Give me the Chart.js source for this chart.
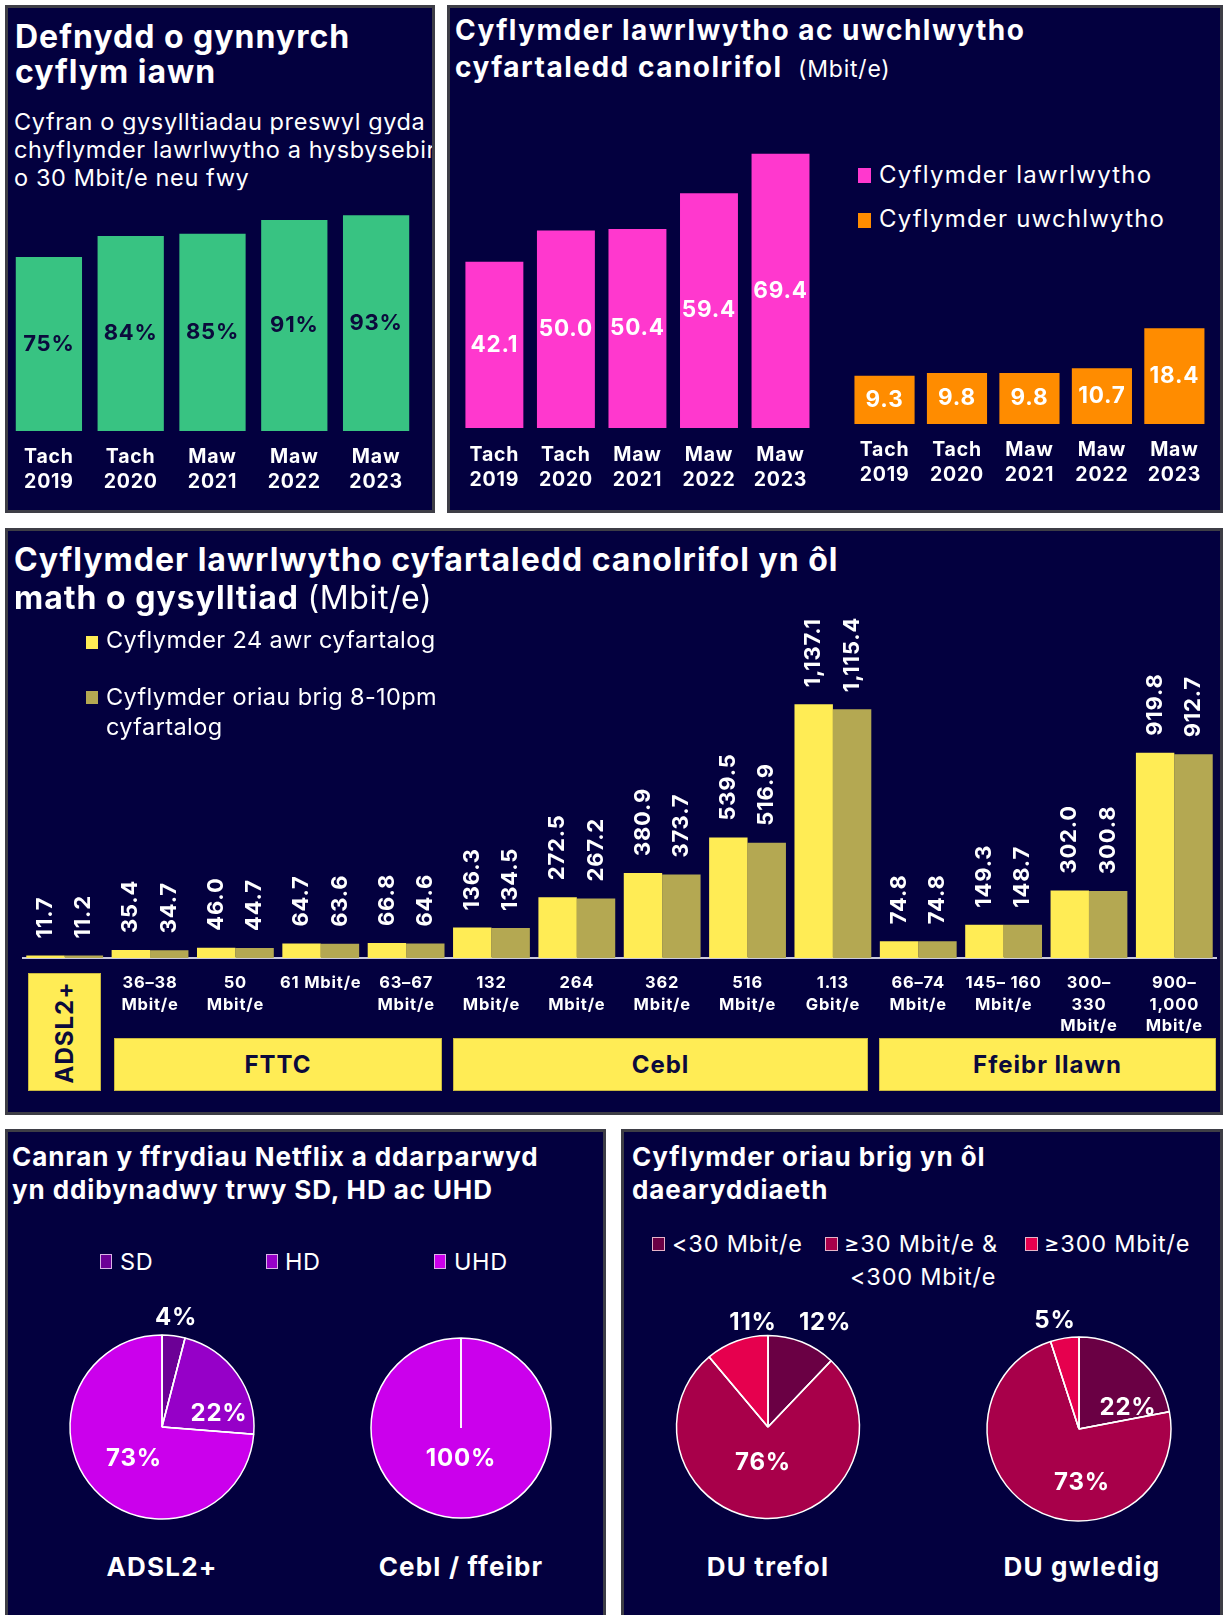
<!DOCTYPE html>
<html>
<head>
<meta charset="utf-8">
<script src="https://cdn.jsdelivr.net/npm/chart.js@4.4.0/dist/chart.umd.min.js"></script>
<style>
  body { margin: 0; width: 1225px; height: 1615px; background: #fff; position: relative; overflow: hidden; font-family: Inter, "Open Sans", sans-serif; }
  .panel { position: absolute; background: #03003f; border: 3px solid #3e3e46; box-sizing: border-box; }
  .t { position: absolute; color: #fff; white-space: nowrap; line-height: 1; }
  .sq { position: absolute; box-sizing: border-box; }
  .box { position: absolute; background: #ffec55; border: 1px solid #c9b840; box-sizing: border-box; color: #0b0a3c; font-weight: 700; font-size: 24px; letter-spacing: 1px; display: flex; align-items: center; justify-content: center; }
  canvas { position: absolute; }
</style>
</head>
<body>
<div class="panel" style="left:5px;top:5px;width:430px;height:508px"></div>
<div class="panel" style="left:447px;top:5px;width:776px;height:508px"></div>
<div class="panel" style="left:5px;top:528px;width:1218px;height:587px"></div>
<div class="panel" style="left:5px;top:1129px;width:601px;height:495px"></div>
<div class="panel" style="left:621px;top:1129px;width:602px;height:495px"></div>

<canvas id="c1" width="409" height="300" style="left:8px;top:199px"></canvas>
<canvas id="c2" width="363" height="381" style="left:457px;top:112px"></canvas>
<canvas id="c3" width="365" height="169" style="left:848px;top:320px"></canvas>
<canvas id="c4" width="1195" height="437" style="left:22px;top:601px"></canvas>
<canvas id="p1" width="200" height="200" style="left:62px;top:1327px"></canvas>
<canvas id="p2" width="200" height="200" style="left:361px;top:1328px"></canvas>
<canvas id="p3" width="200" height="200" style="left:668px;top:1327px"></canvas>
<canvas id="p4" width="200" height="200" style="left:979px;top:1329px"></canvas>

<script>
// --- data ---
const yearLabels = [["Tach", "2019"], ["Tach", "2020"], ["Maw", "2021"], ["Maw", "2022"], ["Maw", "2023"]];
const superfastShare = [75, 84, 85, 91, 93];
const downloadMedian = [42.1, 50.0, 50.4, 59.4, 69.4];
const uploadMedian = [9.3, 9.8, 9.8, 10.7, 18.4];

const connLabels = ["", ["36–38", "Mbit/e"], ["50", "Mbit/e"], "61 Mbit/e", ["63–67", "Mbit/e"],
  ["132", "Mbit/e"], ["264", "Mbit/e"], ["362", "Mbit/e"], ["516", "Mbit/e"], ["1.13", "Gbit/e"],
  ["66–74", "Mbit/e"], ["145– 160", "Mbit/e"], ["300–", "330", "Mbit/e"], ["900–", "1,000", "Mbit/e"]];
const speed24h = [11.7, 35.4, 46.0, 64.7, 66.8, 136.3, 272.5, 380.9, 539.5, 1137.1, 74.8, 149.3, 302.0, 919.8];
const speedPeak = [11.2, 34.7, 44.7, 63.6, 64.6, 134.5, 267.2, 373.7, 516.9, 1115.4, 74.8, 148.7, 300.8, 912.7];

const streamLabels = ["SD", "HD", "UHD"];
const streamAdsl = [4, 22, 73];
const streamCableFibre = [0, 0, 100];

const peakBands = ["<30 Mbit/e", "≥30 Mbit/e & <300 Mbit/e", "≥300 Mbit/e"];
const peakUrban = [12, 76, 11];
const peakRural = [22, 73, 5];

// --- colours ---
const NAVY = "#0b0a3c";
const streamColours = ["#6c0096", "#9600c8", "#cb00ec"];
const peakColours = ["#6a0044", "#a8004a", "#e6004e"];

Chart.defaults.font.family = "Inter, 'Open Sans', sans-serif";
Chart.defaults.animation = false;
Chart.defaults.responsive = false;
Chart.defaults.plugins.legend.display = false;
Chart.defaults.plugins.tooltip.enabled = false;

// text helper for the html labels
function T(x, y, html, css, centre) {
  const d = document.createElement("div");
  d.className = "t";
  d.innerHTML = html;
  d.style.cssText = "left:" + x + "px;top:" + y + "px;transform:translate(" + (centre ? "-50%" : "0") + ",-50%);" + (css || "");
  document.body.appendChild(d);
  return d;
}
function square(x, y, w, h, col) {
  const d = document.createElement("div");
  d.className = "sq";
  d.style.cssText = "left:" + x + "px;top:" + y + "px;width:" + w + "px;height:" + h + "px;background:" + col;
  document.body.appendChild(d);
  return d;
}

// wider letter spacing for the canvas text (ticks)
function spacing(px) {
  return { id: "spacing", beforeDraw(chart) { chart.ctx.letterSpacing = px + "px"; } };
}

// labels drawn on the bars
function barLabels(font, colour, format, mode, gap) {
  return {
    id: "barLabels",
    afterDatasetsDraw(chart) {
      const ctx = chart.ctx;
      chart.data.datasets.forEach((ds, i) => {
        chart.getDatasetMeta(i).data.forEach((bar, j) => {
          ctx.save();
          ctx.font = font;
          ctx.letterSpacing = "0.8px";
          ctx.fillStyle = colour;
          const s = format(ds.data[j]);
          if (mode === "centre") {
            ctx.textAlign = "center";
            ctx.textBaseline = "middle";
            ctx.fillText(s, bar.x, (bar.y + bar.base) / 2);
          } else {
            ctx.translate(bar.x, bar.y - gap);
            ctx.rotate(-Math.PI / 2);
            ctx.textAlign = "left";
            ctx.textBaseline = "middle";
            ctx.fillText(s, 0, 0);
          }
          ctx.restore();
        });
      });
    }
  };
}

function barChart(id, labels, datasets, yMax, axisH, tickFont, tickLine, tickPad, plugin, catPct, extraX) {
  return new Chart(document.getElementById(id), {
    type: "bar",
    data: { labels: labels, datasets: datasets },
    options: {
      layout: { padding: 0 },
      scales: {
        x: Object.assign({
          grid: { display: false, drawTicks: false },
          border: { display: false },
          ticks: { color: "#fff", autoSkip: false, maxRotation: 0, padding: tickPad,
            font: { size: tickFont, weight: "bold", lineHeight: tickLine } },
          afterFit: s => { s.height = axisH; }
        }, extraX || {}),
        y: { display: false, min: 0, max: yMax }
      },
      datasets: { bar: { categoryPercentage: catPct, barPercentage: 1 } }
    },
    plugins: [spacing(0.8), plugin]
  });
}

// panel 1: superfast take-up
barChart("c1", yearLabels,
  [{ data: superfastShare, backgroundColor: "#38c382", barPercentage: 0.81, categoryPercentage: 1 }],
  100, 68, 19.5, 1.28, 13.5,
  barLabels("bold 22px Inter", NAVY, v => v + "%", "centre"), 1);

// panel 2: download and upload medians
barChart("c2", yearLabels,
  [{ data: downloadMedian, backgroundColor: "#ff38ce", barPercentage: 0.81, categoryPercentage: 1 }],
  80, 65, 19.5, 1.28, 14.5,
  barLabels("bold 22.5px Inter", "#fff", v => v.toFixed(1), "centre"), 1);
barChart("c3", yearLabels,
  [{ data: uploadMedian, backgroundColor: "#ff8c00", barPercentage: 0.83, categoryPercentage: 1 }],
  20, 65, 19.5, 1.28, 13.5,
  barLabels("bold 22.5px Inter", "#fff", v => v.toFixed(1), "centre"), 1);

// panel 3: by connection type
const fmt = v => v.toLocaleString("en-GB", { minimumFractionDigits: 1, maximumFractionDigits: 1 });
barChart("c4", connLabels,
  [{ data: speed24h, backgroundColor: "#ffec55" }, { data: speedPeak, backgroundColor: "#b4a852" }],
  1600, 80, 16.5, 1.3, 14.5,
  barLabels("bold 22px Inter", "#fff", fmt, "rotated", 17), 0.9,
  { border: { display: true, color: "#c9c9dd", width: 2 } });

// pies
const pieEdges = {
  id: "pieEdges",
  afterDatasetsDraw(chart) {
    const ctx = chart.ctx;
    chart.getDatasetMeta(0).data.forEach(arc => {
      if (arc.circumference <= 0) return;
      ctx.save();
      ctx.strokeStyle = "#fff";
      ctx.lineWidth = 1.5;
      ctx.beginPath();
      ctx.moveTo(arc.x, arc.y);
      ctx.lineTo(arc.x + arc.outerRadius * Math.cos(arc.startAngle), arc.y + arc.outerRadius * Math.sin(arc.startAngle));
      ctx.stroke();
      ctx.restore();
    });
  }
};
function pie(id, labels, values, colours, r) {
  return new Chart(document.getElementById(id), {
    type: "pie",
    data: { labels: labels, datasets: [{ data: values, backgroundColor: colours, borderColor: "#fff", borderWidth: 1.5 }] },
    options: { radius: r, layout: { padding: 0 } },
    plugins: [pieEdges]
  });
}
pie("p1", streamLabels, streamAdsl, streamColours, 92);
pie("p2", streamLabels, streamCableFibre, streamColours, 90);
pie("p3", peakBands, peakUrban, peakColours, 91.5);
pie("p4", peakBands, peakRural, peakColours, 92);

// --- text ---
const H1 = "font-size:32px;font-weight:700;letter-spacing:1px;";
const H2 = "font-size:28px;font-weight:700;letter-spacing:1.5px;";
const H4 = "font-size:26px;font-weight:700;letter-spacing:0.9px;";
const BODY = "font-size:23.5px;font-weight:400;letter-spacing:0.6px;";

T(15, 37, "Defnydd o gynnyrch", H1);
T(15, 72, "cyflym iawn", H1);
["Cyfran o gysylltiadau preswyl gyda", "chyflymder lawrlwytho a hysbysebir", "o 30 Mbit/e neu fwy"].forEach((s, i) => {
  T(14, [122, 150, 178][i], s, BODY + "max-width:418px;overflow:hidden;");
});

T(455, 30, "Cyflymder lawrlwytho ac uwchlwytho", H2);
T(455, 67, "cyfartaledd canolrifol <span style='font-weight:400;font-size:23px;letter-spacing:0.8px'>&nbsp;(Mbit/e)</span>", H2);
square(858, 168, 13, 15, "#ff38ce");
square(858, 213, 13, 15, "#ff8c00");
const LEG2 = "font-size:24px;font-weight:400;letter-spacing:1.2px;";
T(879, 175, "Cyflymder lawrlwytho", LEG2);
T(879, 219, "Cyflymder uwchlwytho", LEG2);

T(14, 560, "Cyflymder lawrlwytho cyfartaledd canolrifol yn ôl", H1);
T(14, 598, "math o gysylltiad <span style='font-weight:400;letter-spacing:0.6px'>(Mbit/e)</span>", H1);
square(86, 636, 12, 13, "#ffec55");
square(86, 691, 12, 13, "#b4a852");
const LEG3 = "font-size:23.5px;font-weight:400;letter-spacing:0.4px;";
T(106, 640, "Cyflymder 24 awr cyfartalog", LEG3);
T(106, 697, "Cyflymder oriau brig 8-10pm", LEG3);
T(106, 727, "cyfartalog", LEG3);

function box(x, y, w, h, html, rotate) {
  const d = document.createElement("div");
  d.className = "box";
  d.style.cssText = "left:" + x + "px;top:" + y + "px;width:" + w + "px;height:" + h + "px";
  d.innerHTML = rotate ? "<span style='transform:rotate(-90deg);white-space:nowrap'>" + html + "</span>" : html;
  document.body.appendChild(d);
}
box(28, 973, 73, 118, "ADSL2+", true);
box(114, 1038, 328, 53, "FTTC");
box(453, 1038, 415, 53, "Cebl");
box(879, 1038, 337, 53, "Ffeibr llawn");

// panel 4
T(12, 1157, "Canran y ffrydiau Netflix a ddarparwyd", H4);
T(12, 1190, "yn ddibynadwy trwy SD, HD ac UHD", H4);
[[100, 120], [266, 285], [434, 454]].forEach((p, i) => {
  square(p[0], 1254, 12, 15, streamColours[i]).style.border = "1px solid #d9b3e6";
  T(p[1], 1262, streamLabels[i], BODY);
});
const PCT = "font-size:24px;font-weight:700;letter-spacing:0.8px;";
const streamAdslPos = [[176, 1317], [219, 1413], [134, 1458]];
streamAdsl.forEach((v, i) => T(streamAdslPos[i][0], streamAdslPos[i][1], v + "%", PCT, true));
T(461, 1458, streamCableFibre[2] + "%", PCT, true);
const NAME = "font-size:26px;font-weight:700;letter-spacing:1.2px;";
T(162, 1567, "ADSL2+", NAME, true);
T(461, 1567, "Cebl / ffeibr", NAME, true);

// panel 5
T(632, 1157, "Cyflymder oriau brig yn ôl", H4);
T(632, 1190, "daearyddiaeth", H4);
[652, 825, 1025].forEach((x, i) => {
  square(x, 1237, 13, 14, peakColours[i]).style.border = "1px solid #e6b3c8";
});
const LEG5 = "font-size:23.5px;font-weight:400;letter-spacing:0.8px;";
T(672, 1244, "&lt;30 Mbit/e", LEG5);
T(844, 1244, "≥30 Mbit/e &amp;", LEG5);
T(850, 1277, "&lt;300 Mbit/e", LEG5);
T(1044, 1244, "≥300 Mbit/e", LEG5);
const urbanPos = [[825, 1322], [763, 1462], [753, 1322]];
peakUrban.forEach((v, i) => T(urbanPos[i][0], urbanPos[i][1], v + "%", PCT, true));
const ruralPos = [[1128, 1407], [1082, 1482], [1055, 1320]];
peakRural.forEach((v, i) => T(ruralPos[i][0], ruralPos[i][1], v + "%", PCT, true));
T(768, 1567, "DU trefol", NAME, true);
T(1082, 1567, "DU gwledig", NAME, true);
</script>
</body>
</html>
